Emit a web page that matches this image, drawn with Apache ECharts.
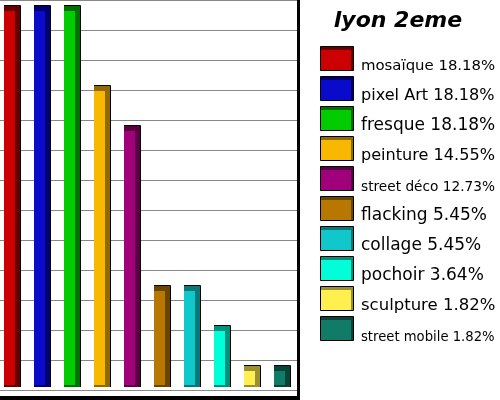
<!DOCTYPE html>
<html>
<head>
<meta charset="utf-8">
<script src="https://cdn.jsdelivr.net/npm/echarts@6/dist/echarts.min.js"></script>
<style>
    html, body { margin: 0; padding: 0; background: #fff; }
    #chart { width: 500px; height: 400px; }
</style>
</head>
<body>
<div id="chart"></div>
<script>
(function(window) {
    'use strict';

    // data
    var title = 'lyon 2eme';
    var categories = ['mosaïque', 'pixel Art', 'fresque', 'peinture', 'street déco',
        'flacking', 'collage', 'pochoir', 'sculpture', 'street mobile'];
    var counts = [10, 10, 10, 8, 7, 3, 3, 2, 1, 1];
    var shares = ['18.18', '18.18', '18.18', '14.55', '12.73', '5.45', '5.45', '3.64', '1.82', '1.82'];

    // colors: face / side
    var faceColors = ['#cc0000', '#0a0acc', '#00cc00', '#f8b800', '#a0007a',
        '#b87800', '#10c8cc', '#00ffd8', '#fff050', '#107c68'];
    var sideColors = ['#660000', '#000070', '#007000', '#8e6a00', '#5a0044',
        '#6a4500', '#087878', '#00907c', '#9a9030', '#084438'];

    var yMin = 0.65;
    var yMax = 10;

    var chart = echarts.init(document.getElementById('chart'));

    // taille du texte de légende ajustée à la largeur disponible
    var ctx = document.createElement('canvas').getContext('2d');
    function fitSize(text) {
        ctx.font = '10px "DejaVu Sans"';
        var w = ctx.measureText(text).width / 10;
        return Math.min(17, 134 / w);
    }

    // légende
    var legend = [{
        type: 'text',
        x: 398,
        y: 10,
        style: {
            text: title,
            font: 'italic bold 22px "DejaVu Sans"',
            fill: '#000',
            align: 'center',
            verticalAlign: 'top'
        }
    }];
    categories.forEach(function(name, i) {
        var y = 46 + i * 30;
        var label = name + ' ' + shares[i] + '%';
        legend.push({
            type: 'rect',
            shape: { x: 320.5, y: y + 0.5, width: 33, height: 24 },
            style: { fill: sideColors[i], stroke: '#000', lineWidth: 1 }
        }, {
            type: 'rect',
            shape: { x: 321, y: y + 4, width: 30, height: 20 },
            style: { fill: faceColors[i] }
        }, {
            type: 'text',
            x: 361,
            y: y + 28,
            style: {
                text: label,
                font: fitSize(label).toFixed(1) + 'px "DejaVu Sans"',
                fill: '#000',
                verticalAlign: 'bottom'
            }
        });
    });

    // cadre
    legend.push({
        type: 'rect',
        shape: { x: 297, y: 0, width: 3, height: 400 },
        style: { fill: '#000' }
    }, {
        type: 'rect',
        shape: { x: 0, y: 396, width: 300, height: 4 },
        style: { fill: '#000' }
    });

    function renderBar(params, api) {
        var i = api.value(0);
        var top = api.coord([i, api.value(1)]);
        var base = api.coord([i, yMin]);
        var band = api.size([1, 0])[0];
        var faceW = Math.round(band * 0.37);
        var depth = Math.round(band * 0.18);
        var left = Math.round(top[0]) - faceW;
        var y0 = Math.round(top[1]);
        var y1 = Math.round(base[1]);
        return {
            type: 'group',
            children: [{
                type: 'rect',
                shape: { x: left, y: y0 - depth, width: faceW + depth, height: y1 + 2 - (y0 - depth) },
                style: { fill: sideColors[params.dataIndex] }
            }, {
                type: 'polyline',
                shape: { points: [[left, y0 - depth - 0.5], [left + faceW + depth + 0.5, y0 - depth - 0.5], [left + faceW + depth + 0.5, y1 + 2]] },
                style: { stroke: '#000', lineWidth: 1, fill: null }
            }, {
                type: 'rect',
                shape: { x: left, y: y0, width: faceW, height: y1 - y0 },
                style: { fill: faceColors[params.dataIndex] }
            }]
        };
    }

    var option = {
        animation: false,
        backgroundColor: '#fff',
        grid: [
            { left: 0, top: 11, width: 300, height: 374 },
            { left: 0, top: 0, width: 297, height: 390 }
        ],
        xAxis: [
            { type: 'category', data: categories, gridIndex: 0, show: false },
            { type: 'value', gridIndex: 1, min: 0, max: 1, show: false }
        ],
        yAxis: [
            { type: 'value', gridIndex: 0, min: yMin, max: yMax, show: false },
            {
                type: 'value', gridIndex: 1, min: 0, max: 13, interval: 1,
                axisLine: { show: false },
                axisTick: { show: false },
                axisLabel: { show: false },
                splitLine: { show: true, lineStyle: { color: '#888', width: 1 } }
            }
        ],
        series: [{
            type: 'custom',
            xAxisIndex: 0,
            yAxisIndex: 0,
            renderItem: renderBar,
            data: counts.map(function(v, i) { return [i, v]; }),
            z: 3
        }],
        graphic: legend
    };

    chart.setOption(option);
})(window);
</script>
</body>
</html>
